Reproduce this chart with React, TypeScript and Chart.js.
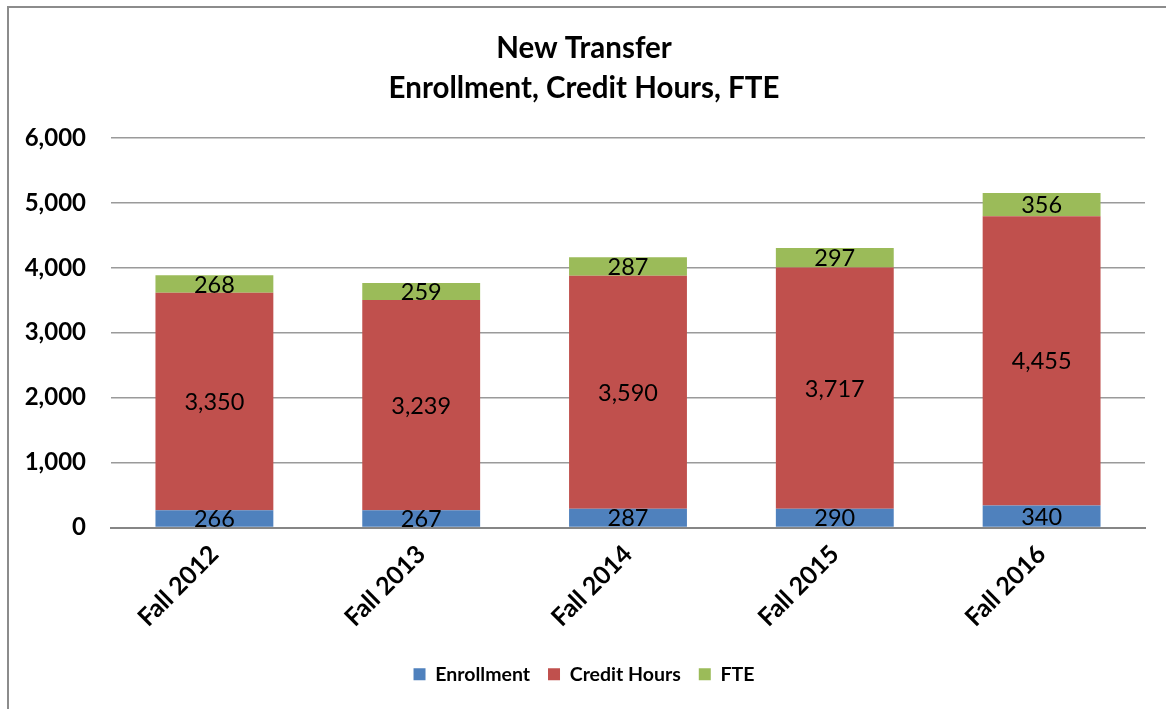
import React, { useEffect, useRef } from "react";
import { Chart, registerables } from "chart.js";

Chart.register(...registerables);

const categories = ["Fall 2012", "Fall 2013", "Fall 2014", "Fall 2015", "Fall 2016"];
const enrollment = [266, 267, 287, 290, 340];
const creditHours = [3350, 3239, 3590, 3717, 4455];
const fte = [268, 259, 287, 297, 356];
const titleLines = ["New Transfer", "Enrollment, Credit Hours, FTE"];

const FONT = "Lato, 'Open Sans', sans-serif";
const fmt = (v: number) => v.toLocaleString("en-US");

const borderPlugin = {
  id: "outerBorder",
  beforeDraw(chart: any) {
    const ctx = chart.ctx;
    ctx.save();
    ctx.fillStyle = "#ffffff";
    ctx.fillRect(0, 0, chart.width, chart.height);
    ctx.strokeStyle = "#8c8c8c";
    ctx.lineWidth = 2;
    ctx.strokeRect(8, 7, 1300, 900);
    ctx.restore();
  },
};

const labelPlugin = {
  id: "segLabels",
  afterDatasetsDraw(chart: any) {
    const ctx = chart.ctx;
    ctx.save();
    ctx.font = `23.5px ${FONT}`;
    ctx.fillStyle = "#000000";
    ctx.textAlign = "center";
    ctx.textBaseline = "middle";
    chart.data.datasets.forEach((ds: any, di: number) => {
      const meta = chart.getDatasetMeta(di);
      meta.data.forEach((el: any, i: number) => {
        const { x, y, base } = el.getProps(["x", "y", "base"], true);
        ctx.fillText(fmt(ds.data[i]), x, (y + base) / 2 + 1);
      });
    });
    ctx.restore();
  },
};

export default function App() {
  const ref = useRef<HTMLCanvasElement>(null);
  useEffect(() => {
    if (!ref.current) return;
    const chart = new Chart(ref.current, {
      type: "bar",
      data: {
        labels: categories,
        datasets: [
          { label: "Enrollment", data: enrollment, backgroundColor: "#4F81BD" },
          { label: "Credit Hours", data: creditHours, backgroundColor: "#C0504D" },
          { label: "FTE", data: fte, backgroundColor: "#9BBB59" },
        ],
      },
      options: {
        responsive: false,
        animation: false,
        layout: { padding: { left: 23, right: 21, top: 0, bottom: 15 } },
        datasets: {
          bar: { barPercentage: 0.57, categoryPercentage: 1, borderWidth: 0 },
        },
        plugins: {
          title: {
            display: true,
            text: titleLines,
            color: "#000000",
            font: { family: FONT, size: 29.5, weight: "bold", lineHeight: 40 / 29.5 },
            padding: { top: 28, bottom: 30 },
          },
          legend: {
            position: "bottom",
            labels: {
              color: "#000000",
              font: { family: FONT, size: 19.5, weight: "bold" },
              boxWidth: 12,
              boxHeight: 12,
              padding: 18,
            },
          },
          tooltip: { enabled: false },
        },
        scales: {
          x: {
            stacked: true,
            grid: { display: false },
            border: { display: true, color: "#868686", width: 2 },
            ticks: {
              color: "#000000",
              font: { family: FONT, size: 25, weight: "bold" },
              maxRotation: 45,
              minRotation: 45,
              padding: 4,
            },
            afterFit: (s: any) => {
              s.height = 119;
            },
          },
          y: {
            stacked: true,
            min: 0,
            max: 6000,
            ticks: {
              stepSize: 1000,
              color: "#000000",
              font: { family: FONT, size: 24, weight: "bold" },
              padding: 25,
              callback: (v: any) => fmt(Number(v)),
            },
            grid: { color: "#9a9a9a", lineWidth: 1.5, drawTicks: false },
            border: { display: false },
            afterFit: (s: any) => {
              s.width = 88;
            },
          },
        },
      },
      plugins: [borderPlugin, labelPlugin],
    });
    return () => chart.destroy();
  }, []);
  return (
    <div style={{ position: "fixed", left: 0, top: 0, width: 1166, height: 709 }}>
      <canvas ref={ref} width={1166} height={709} />
    </div>
  );
}
